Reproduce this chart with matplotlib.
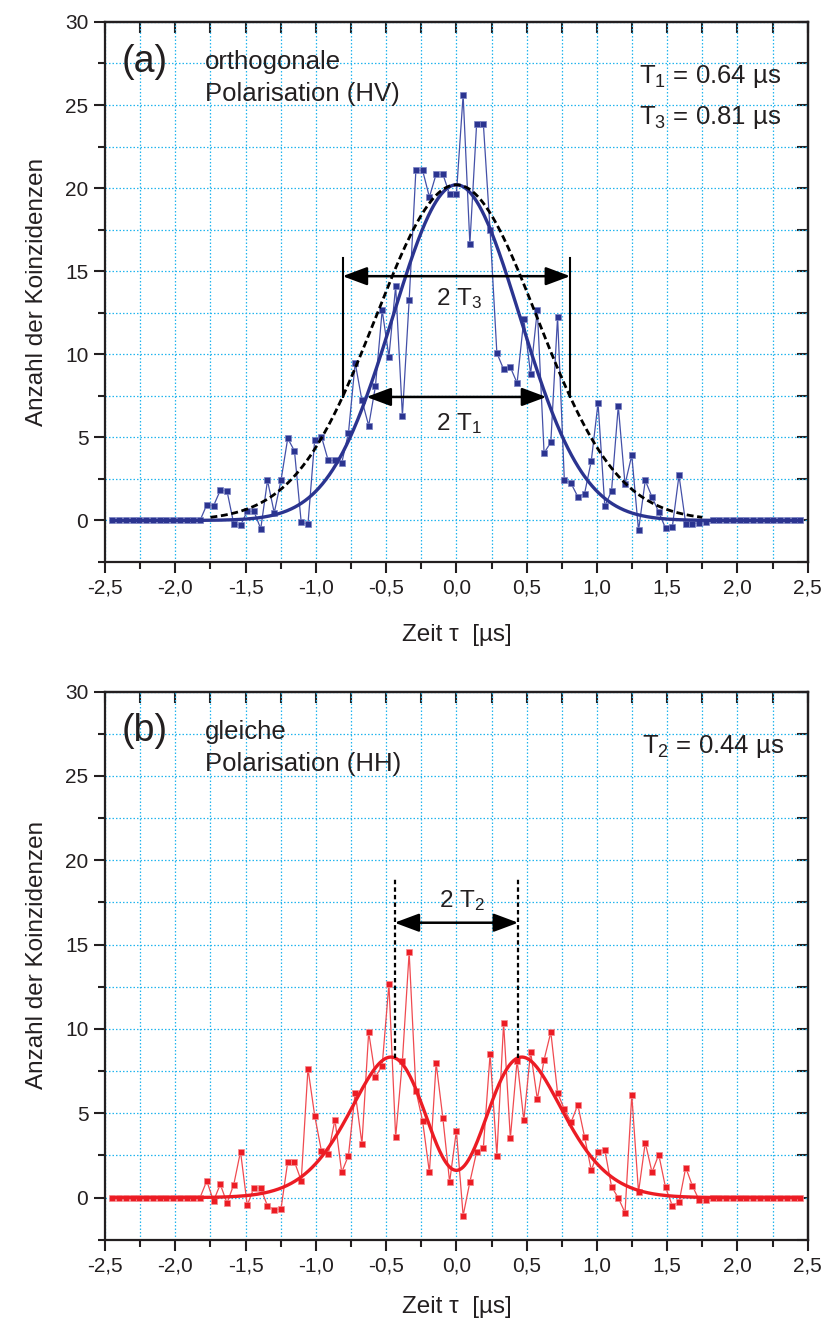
import numpy as np
import matplotlib
matplotlib.use('Agg')
import matplotlib.pyplot as plt
from matplotlib.ticker import MultipleLocator, FuncFormatter

plt.rcParams['font.family'] = ['Liberation Sans', 'DejaVu Sans']
plt.rcParams['mathtext.fontset'] = 'custom'
plt.rcParams['mathtext.rm'] = 'Liberation Sans'
plt.rcParams['mathtext.it'] = 'Liberation Sans'
plt.rcParams['mathtext.default'] = 'regular'

# bin width of the coincidence histogram [us], bins -51..51
dt = 0.048
bins = np.arange(-51, 52)
tau = bins * dt

zeros14 = [0.0] * 14

# (a) orthogonal polarisation, bins -37..37
hv_core = [0.94, 0.88, 1.81, 1.77, -0.20, -0.30, 0.56, 0.54, -0.50, 2.41,
           0.46, 2.41, 4.94, 4.18, -0.12, -0.22, 4.86, 5.04, 3.61, 3.61,
           3.45, 5.26, 9.48, 7.23, 5.70, 8.07, 12.65, 9.85, 14.10, 6.30,
           13.25, 21.10, 21.06, 19.46, 20.84, 20.84, 19.62,
           19.62,
           25.60, 16.64, 23.86, 23.86, 17.46, 10.08, 9.10, 9.22, 8.27, 12.11,
           8.82, 12.67, 4.06, 4.70, 12.25, 2.45, 2.23, 1.43, 1.61, 3.59,
           7.07, 0.86, 1.77, 6.89, 2.17, 3.92, -0.60, 2.41, 1.41, 0.50,
           -0.46, -0.42, 2.71, -0.20, -0.20, -0.14, -0.08]
hv_counts = np.array(zeros14 + hv_core + zeros14)

# (b) same polarisation, bins -37..37
hh_core = [0.99, -0.20, 0.79, -0.32, 0.77, 2.73, -0.45, 0.59, 0.55, -0.49,
           -0.73, -0.67, 2.12, 2.12, 1.01, 7.65, 4.85, 2.75, 2.61, 4.61,
           1.50, 2.49, 6.23, 3.20, 9.81, 7.16, 7.83, 12.66, 3.58, 8.13,
           14.54, 6.35, 4.53, 1.50, 7.97, 4.71, 0.93,
           3.96,
           -1.07, 0.93, 2.71, 2.97, 8.52, 2.49, 10.34, 3.52, 8.13, 4.59,
           8.66, 5.83, 8.17, 9.81, 6.21, 5.24, 4.47, 5.50, 3.60, 1.62,
           2.73, 2.83, 0.65, -0.02, -0.89, 6.09, 0.32, 3.26, 1.50, 2.55,
           0.61, -0.47, -0.28, 1.78, 0.69, -0.16, -0.16]
hh_counts = np.array(zeros14 + hh_core + zeros14)

# fit parameters
A0 = 20.2       # peak height of the gaussian fit
T1 = 0.64
T3 = 0.81
T2 = 0.44
sig_b = 0.66    # envelope width for HH
vis_b = 0.92    # dip depth
dip_b = 0.454   # dip width

t_fit = np.linspace(-2.45, 2.45, 800)
t_dash = np.linspace(-1.75, 1.75, 400)


def gauss(t, T):
    return A0 * np.exp(-t**2 / T**2)


def hh_model(t):
    return A0 * np.exp(-t**2 / sig_b**2) * (1 - vis_b * np.exp(-t**2 / dip_b**2))


txt = '#231f20'
grid_c = '#22b5ee'
blue = '#2b3490'
blue_l = '#4450a8'
red = '#ec1c24'
red_l = '#f04a50'
fs_note = 18.5

fig = plt.figure(figsize=(8.27, 13.22), dpi=100)
ax_a = fig.add_axes([0.127, 0.5749, 0.8497, 0.4085])
ax_b = fig.add_axes([0.127, 0.0622, 0.8497, 0.4146])

comma = FuncFormatter(lambda v, p: f"{v:.1f}".replace('.', ','))


def style(ax, label_y):
    ax.set_xlim(-2.5, 2.5)
    ax.set_ylim(-2.5, 30)
    ax.xaxis.set_major_locator(MultipleLocator(0.5))
    ax.xaxis.set_minor_locator(MultipleLocator(0.25))
    ax.yaxis.set_major_locator(MultipleLocator(5))
    ax.yaxis.set_minor_locator(MultipleLocator(2.5))
    ax.xaxis.set_major_formatter(comma)
    ax.grid(True, which='both', color=grid_c, linestyle=(0, (1.2, 1.6)), lw=0.9)
    ax.set_axisbelow(True)
    for s in ax.spines.values():
        s.set_linewidth(1.6)
        s.set_color(txt)
    ax.tick_params(which='both', direction='out', width=1.5, color=txt,
                   labelsize=15, labelcolor=txt, pad=4)
    ax.tick_params(which='major', length=8)
    ax.tick_params(which='minor', length=5)
    # top and right axes with inward ticks
    top = ax.secondary_xaxis('top')
    top.xaxis.set_major_locator(MultipleLocator(0.25))
    top.tick_params(direction='in', length=8, width=1.5, color=txt, labeltop=False)
    right = ax.secondary_yaxis('right')
    right.yaxis.set_major_locator(MultipleLocator(2.5))
    right.tick_params(direction='in', length=8, width=1.5, color=txt, labelright=False)
    for sec in (top, right):
        for s in sec.spines.values():
            s.set_linewidth(1.6)
            s.set_color(txt)
    ax.text(-0.097, label_y, 'Anzahl der Koinzidenzen', rotation=90,
            transform=ax.transAxes, ha='center', va='center', fontsize=17.5, color=txt)


def arrow(ax, x0, x1, y):
    ax.annotate('', xy=(x1, y), xytext=(x0, y),
                arrowprops=dict(arrowstyle='<|-|>,head_length=0.75,head_width=0.28',
                                color='black', lw=1.8, shrinkA=0, shrinkB=0,
                                mutation_scale=20), zorder=6)


# ---- (a) HV ----
style(ax_a, 0.5)
ax_a.plot(tau, hv_counts, '-', color=blue_l, lw=0.9, zorder=3)
ax_a.plot(tau, hv_counts, 's', color=blue, ms=4.6, mec='#7a82c4', mew=0.5, zorder=4)
ax_a.plot(t_fit, gauss(t_fit, T1), color=blue, lw=2.4, zorder=5)
ax_a.plot(t_dash, gauss(t_dash, T3), color='black', lw=2.0,
          linestyle=(0, (2.5, 1.3)), zorder=5)
yT = A0 / np.e
for x in (-T3, T3):
    ax_a.plot([x, x], [yT, 15.8], color='black', lw=1.5, zorder=6)
arrow(ax_a, -T3, T3, 14.7)
arrow(ax_a, -T1, T1, yT)
ax_a.text(0.02, 12.95, '2 T$_3$', ha='center', va='baseline', fontsize=17.5, color=txt)
ax_a.text(0.02, 5.45, '2 T$_1$', ha='center', va='baseline', fontsize=17.5, color=txt)
ax_a.text(-2.38, 27.0, '(a)', fontsize=27, color=txt, va='baseline')
ax_a.text(-1.79, 27.17, 'orthogonale', fontsize=fs_note, color=txt, va='baseline')
ax_a.text(-1.79, 25.26, 'Polarisation (HV)', fontsize=fs_note, color=txt, va='baseline')
ax_a.text(1.296, 26.3, 'T$_1$ = 0.64 µs', fontsize=fs_note, color=txt, va='baseline')
ax_a.text(1.296, 23.85, 'T$_3$ = 0.81 µs', fontsize=fs_note, color=txt, va='baseline')
ax_a.text(0.5, -0.1355, 'Zeit τ  [µs]', transform=ax_a.transAxes, ha='center',
          va='center', fontsize=17.5, color=txt)

# ---- (b) HH ----
style(ax_b, 0.52)
ax_b.plot(tau, hh_counts, '-', color=red_l, lw=0.9, zorder=3)
ax_b.plot(tau, hh_counts, 's', color=red, ms=4.6, mec='#f58a8e', mew=0.5, zorder=4)
ax_b.plot(t_fit, hh_model(t_fit), color=red, lw=2.4, zorder=5)
yP = hh_model(T2)
for x in (-T2, T2):
    ax_b.plot([x, x], [yP, 18.9], color='black', lw=1.6,
              linestyle=(0, (2.0, 1.4)), zorder=6)
arrow(ax_b, -T2, T2, 16.3)
ax_b.text(0.04, 17.2, '2 T$_2$', ha='center', va='baseline', fontsize=17.5, color=txt)
ax_b.text(-2.38, 27.05, '(b)', fontsize=27, color=txt, va='baseline')
ax_b.text(-1.79, 27.2, 'gleiche', fontsize=fs_note, color=txt, va='baseline')
ax_b.text(-1.79, 25.3, 'Polarisation (HH)', fontsize=fs_note, color=txt, va='baseline')
ax_b.text(1.32, 26.36, 'T$_2$ = 0.44 µs', fontsize=fs_note, color=txt, va='baseline')
ax_b.text(0.5, -0.122, 'Zeit τ  [µs]', transform=ax_b.transAxes, ha='center',
          va='center', fontsize=17.5, color=txt)

fig.savefig('out.png', dpi=100)
